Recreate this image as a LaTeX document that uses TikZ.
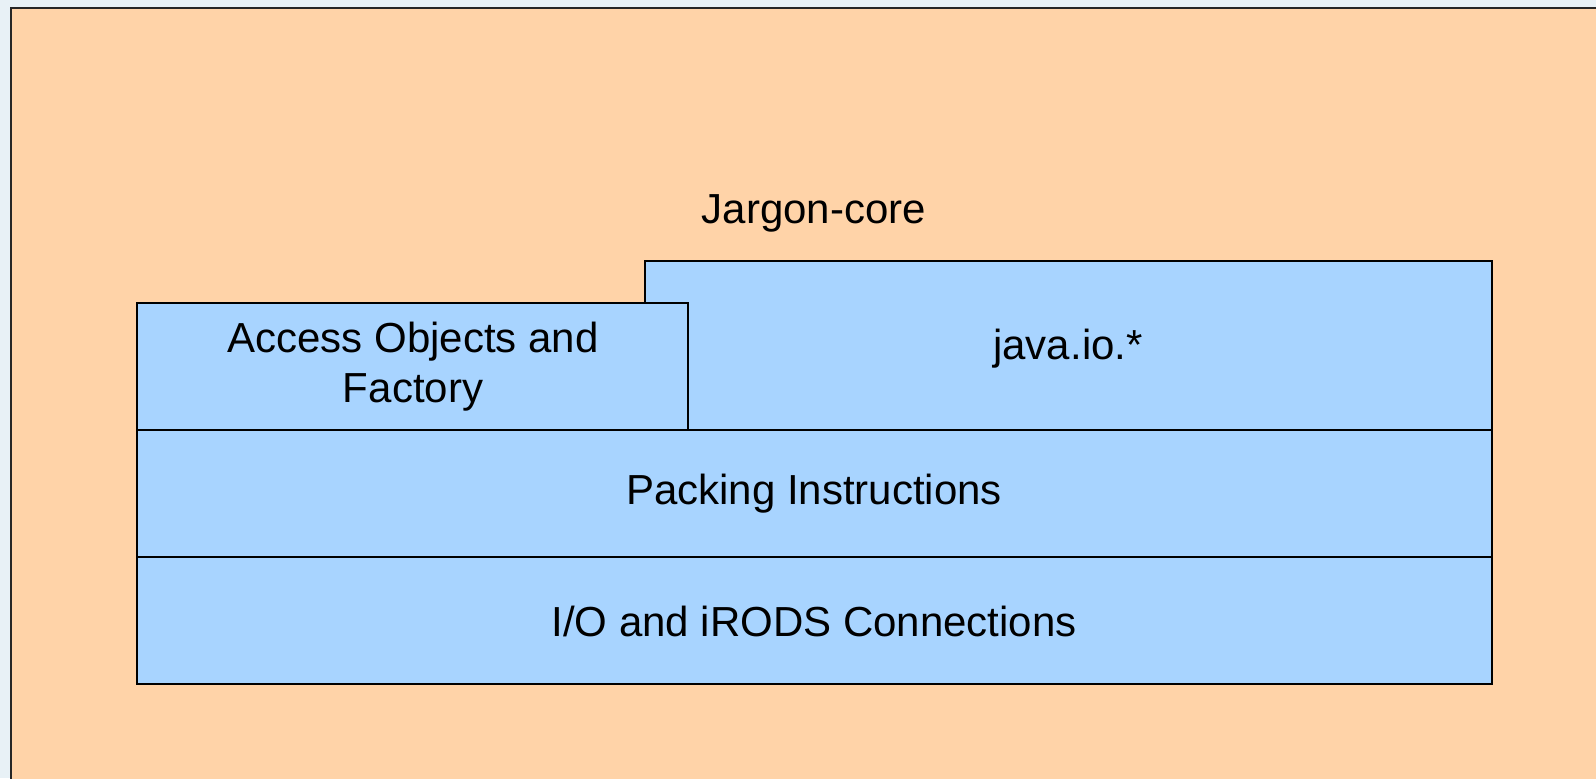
\documentclass[tikz,border=0pt]{standalone}
\usepackage{fontspec}
\setmainfont{Liberation Sans}
\definecolor{bgc}{HTML}{E8F1F6}
\definecolor{orangec}{HTML}{FFD3A8}
\definecolor{bluec}{HTML}{A8D4FF}
\tikzset{
  layer/.style={draw=black, fill=bluec, line width=1pt},
  lbl/.style={font=\fontsize{21}{25}\selectfont, align=center, inner sep=0pt}
}
\begin{document}
\begin{tikzpicture}[x=0.5pt,y=-0.5pt]
\useasboundingbox (0,0) rectangle (1596,778);
\fill[bgc] (0,0) rectangle (1596,778);
\draw[fill=orangec, draw=black!85, line width=1.3pt] (11,8) rectangle (1610,790);
\node[lbl] (title) at (814,213) {Jargon-core};
\draw[layer] (645,261) rectangle (1492,430);
\node[lbl] (java) at (1068,349) {java.io.*};
\draw[layer] (137,303) rectangle (688,430);
\node[lbl] (access) at (413,367) {Access Objects and\\Factory};
\draw[layer] (137,430) rectangle (1492,557);
\node[lbl] (pack) at (814,494) {Packing Instructions};
\draw[layer] (137,557) rectangle (1492,684);
\node[lbl] (io) at (814,621) {I/O and iRODS Connections};
\end{tikzpicture}
\end{document}
